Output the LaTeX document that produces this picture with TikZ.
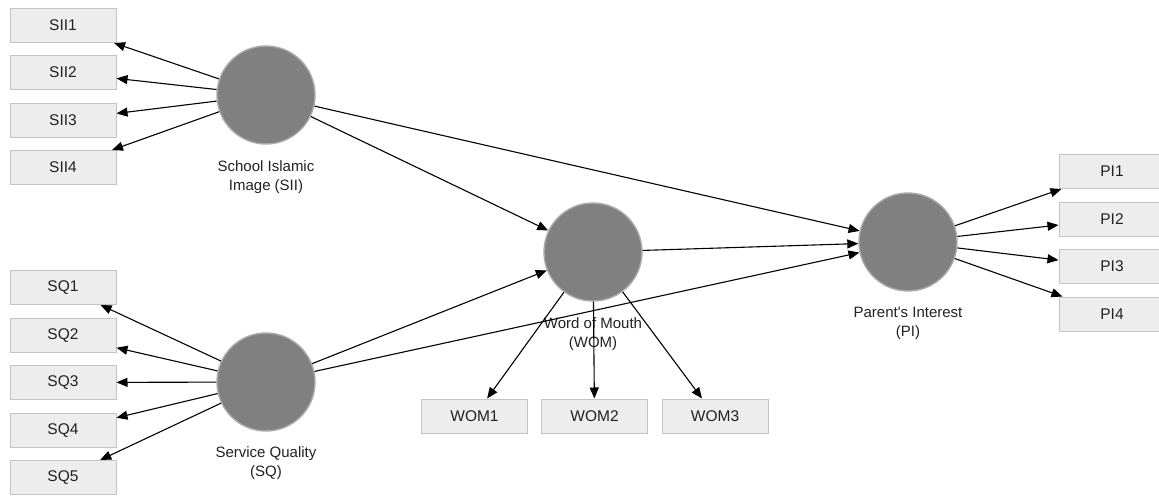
\documentclass[tikz,border=0pt]{standalone}
\usepackage{fontspec}
\setmainfont{Liberation Sans}[Ligatures=TeXOff]
\usetikzlibrary{arrows.meta}
\definecolor{boxfill}{HTML}{EDEDED}
\definecolor{boxline}{HTML}{C4C4C4}
\definecolor{lvfill}{HTML}{808080}
\definecolor{lvline}{HTML}{ABABAB}
\definecolor{txt}{HTML}{222222}
\begin{document}
\begin{tikzpicture}[x=1pt,y=-1pt,
  ind/.style={draw=boxline,fill=boxfill,line width=1pt,minimum width=106pt,minimum height=34pt,inner sep=0pt,text=txt,font=\fontsize{15.5}{18}\selectfont},
  lv/.style={circle,draw=lvline,fill=lvfill,line width=1.4pt,minimum size=98pt,inner sep=0pt},
  lab/.style={align=center,text=txt,font=\fontsize{15}{18.5}\selectfont,inner sep=0pt},
  arr/.style={line width=1.1pt,-{Triangle[length=11pt,width=9pt]}}]
\useasboundingbox[fill=white] (0,0) rectangle (1159,496);
% indicators
\node[ind] (sii1) at (63,25.5) {SII1};
\node[ind] (sii2) at (63,72.5) {SII2};
\node[ind] (sii3) at (63,120) {SII3};
\node[ind] (sii4) at (63,167.5) {SII4};
\node[ind] (sq1) at (63,287.5) {SQ1};
\node[ind] (sq2) at (63,335.5) {SQ2};
\node[ind] (sq3) at (63,382.5) {SQ3};
\node[ind] (sq4) at (63,430.5) {SQ4};
\node[ind] (sq5) at (63,477.5) {SQ5};
\node[ind] (wom1) at (474.5,416) {WOM1};
\node[ind] (wom2) at (594.5,416) {WOM2};
\node[ind] (wom3) at (715,416) {WOM3};
\node[ind] (pi1) at (1112,171.5) {PI1};
\node[ind] (pi2) at (1112,219) {PI2};
\node[ind] (pi3) at (1112,266.5) {PI3};
\node[ind] (pi4) at (1112,314) {PI4};
% latent variables
\node[lv] (sii) at (266,95) {};
\node[lv] (sq) at (266,382) {};
\node[lv] (wom) at (593,252) {};
\node[lv] (pi) at (908,242) {};
% labels
\node[lab] (siilab) at (266,177) {School Islamic\\Image (SII)};
\node[lab] (sqlab) at (266,463) {Service Quality\\(SQ)};
\node[lab] (womlab) at (593,334) {Word of Mouth\\(WOM)};
\node[lab] (pilab) at (908,323.5) {Parent's Interest\\(PI)};
% outer model
\foreach \i in {1,...,4} \draw[arr] (sii) -- (sii\i);
\foreach \i in {1,...,5} \draw[arr] (sq) -- (sq\i);
\foreach \i in {1,...,3} \draw[arr] (wom) -- (wom\i);
\foreach \i in {1,...,4} \draw[arr] (pi) -- (pi\i);
% inner model
\draw[arr] (sii) -- (wom);
\draw[arr] (sii) -- (pi);
\draw[arr] (sq) -- (wom);
\draw[arr] (sq) -- (pi);
\draw[arr] (wom) -- (pi);
\end{tikzpicture}
\end{document}
